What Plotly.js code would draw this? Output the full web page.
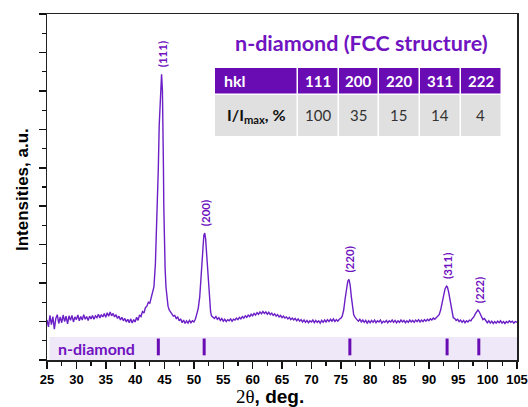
<!DOCTYPE html>
<html><head><meta charset="utf-8">
<script src="https://cdn.plot.ly/plotly-3.0.1.min.js"></script>
<style>html,body{margin:0;padding:0;background:#fff}#chart{width:528px;height:407px}</style>
</head><body><div id="chart"></div>
<script>
// ---- XRD pattern (2θ, deg / intensity, a.u.) ----
const twoTheta = [
 25,25.25,25.5,25.75, 26,26.25,26.5,26.75, 27,27.25,27.5,27.75, 28,28.25,28.5,28.75, 29,29.25,29.5,29.75,
 30,30.25,30.5,30.75, 31,31.25,31.5,31.75, 32,32.25,32.5,32.75, 33,33.25,33.5,33.75, 34,34.25,34.5,34.75,
 35,35.25,35.5,35.75, 36,36.25,36.5,36.75, 37,37.25,37.5,37.75, 38,38.25,38.5,38.75, 39,39.25,39.5,39.75,
 40,40.25,40.5,40.75, 41,41.25,41.5,41.75, 42,42.25,42.5,42.75, 43,
 43.2,43.45,43.65,43.8,43.95,44.1,44.3,44.5,44.65,44.75,44.82,44.88,44.98,45.1,45.25,45.4,45.6,45.8,46,
 46.25,46.5,46.75, 47,47.25,47.5,47.75, 48,48.25,48.5,48.75, 49,49.25,49.5,49.75, 50,50.25,
 50.5,50.75,51,51.25,51.5,51.7,51.85,52,52.2,52.4,52.55,52.7,52.85,53,
 53.25,53.5,53.75,
 54,54.25,54.5,54.75, 55,55.25,55.5,55.75, 56,56.25,56.5,56.75, 57,57.25,57.5,57.75, 58,58.25,58.5,58.75,
 59,59.25,59.5,59.75, 60,60.25,60.5,60.75, 61,61.25,61.5,61.75, 62,62.25,62.5,62.75, 63,63.25,63.5,63.75,
 64,64.25,64.5,64.75, 65,65.25,65.5,65.75, 66,66.25,66.5,66.75, 67,67.25,67.5,67.75, 68,68.25,68.5,68.75,
 69,69.25,69.5,69.75, 70,70.25,70.5,70.75, 71,71.25,71.5,71.75, 72,72.25,72.5,72.75, 73,73.25,73.5,73.75,
 74,74.25,74.5,74.75,
 75,75.25,75.5,75.75,76,76.2,76.4,76.6,76.8,77,77.2,77.4,77.6,
 77.75,
 78,78.25,78.5,78.75, 79,79.25,79.5,79.75, 80,80.25,80.5,80.75, 81,81.25,81.5,81.75, 82,82.25,82.5,82.75,
 83,83.25,83.5,83.75, 84,84.25,84.5,84.75, 85,85.25,85.5,85.75, 86,86.25,86.5,86.75, 87,87.25,87.5,87.75,
 88,88.25,88.5,88.75, 89,89.25,89.5,89.75, 90,90.25,90.5,90.75, 91,91.25,
 91.5,91.75,92,92.25,92.5,92.75,93,93.15,93.35,93.55,93.75,93.95,94.15,
 94.4,94.65,94.9,95.15,95.4,95.65,95.9,96.15,96.4,96.65,96.9,97.15,
 97.4,97.65,97.9,98.15,98.35,98.55,98.75,98.95,99.2,99.45,
 99.7,99.95,100.2,100.45,100.7,100.95,101.2,101.45,101.7,101.95,102.2,102.45,102.7,102.95,103.2,103.45,103.7,103.95,104.2,104.45,104.7,105
];
const intensity = [
 1.04,0.86,1.16,0.92, 1.13,0.80,1.08,1.18, 0.95,1.12,0.97,1.17, 1.00,1.14,0.94,1.15, 1.03,1.16,0.99,1.12,
 1.05,1.17,1.02,1.13, 1.04,1.18,1.06,1.13, 1.03,1.14,1.07,1.16, 1.06,1.15,1.10,1.19, 1.09,1.18,1.12,1.21,
 1.11,1.23,1.14,1.25, 1.15,1.21,1.12,1.18, 1.08,1.14,1.04,1.11, 1.02,1.08,0.99,1.06, 0.97,1.07,0.96,1.05,
 0.99,1.11,1.03,1.17, 1.13,1.26,1.22,1.36, 1.40,1.50,1.48,1.62, 1.75,
 1.90,2.50,3.40,4.20,5.00,6.10,6.90,7.43,7.00,6.20,5.00,4.00,3.00,2.40,1.90,1.60,1.40,1.30,1.24,
 1.20,1.14,1.16, 1.08,1.12,1.02,1.07, 0.97,1.04,0.95,1.02, 0.96,1.03,0.97,1.02, 0.99,1.06,
 1.20,1.35,1.65,2.25,2.90,3.25,3.30,3.15,2.70,2.20,1.80,1.45,1.25,1.15,
 1.12,1.08,1.13,
 1.06,1.10,1.03,1.08, 1.01,1.06,1.00,1.05, 1.02,1.07,1.01,1.06, 1.04,1.09,1.05,1.11, 1.07,1.13,1.09,1.15,
 1.11,1.17,1.13,1.19, 1.15,1.21,1.17,1.23, 1.19,1.25,1.20,1.26, 1.21,1.25,1.19,1.24, 1.18,1.22,1.16,1.20,
 1.14,1.18,1.12,1.16, 1.10,1.14,1.09,1.12, 1.07,1.11,1.05,1.09, 1.04,1.08,1.02,1.07, 1.01,1.05,0.99,1.04,
 0.98,1.03,0.97,1.02, 0.99,1.04,0.97,1.03, 0.98,1.02,0.96,1.03, 0.98,1.04,0.99,1.05, 1.00,1.06,1.01,1.07,
 1.00,1.05,1.01,1.06,
 1.08,1.14,1.30,1.60,1.90,2.05,2.10,1.95,1.65,1.35,1.18,1.12,1.07,
 1.05,
 1.01,1.06,0.99,1.04, 0.98,1.03,0.96,1.02, 0.97,1.03,0.98,1.04, 0.97,1.02,0.99,1.04, 0.96,1.01,0.98,1.03,
 0.97,1.02,0.99,1.04, 0.98,1.03,0.97,1.02, 0.98,1.04,0.99,1.03, 0.97,1.02,0.98,1.04, 0.99,1.03,0.98,1.04,
 1.00,1.05,0.99,1.04, 1.00,1.05,1.01,1.06, 1.02,1.07,1.04,1.09, 1.06,1.10,
 1.12,1.18,1.30,1.48,1.68,1.85,1.92,1.90,1.78,1.60,1.40,1.20,1.10,
 1.08,1.03,1.06,1.00,1.04,0.98,1.03,0.97,1.02,0.99,1.04,1.02,
 1.08,1.12,1.20,1.28,1.30,1.26,1.18,1.10,1.05,1.08,
 1.02,0.97,1.02,0.96,1.01,0.95,1.00,0.96,1.01,0.97,1.02,0.96,1.00,0.95,1.00,0.97,1.02,0.98,1.01,0.96,1.00,0.98
];

// ---- reflections ----
const hkl        = ['111','200','220','311','222'];
const peakLabels = ['(111)','(200)','(220)','(311)','(222)'];
const peakPos    = [44.55, 51.9, 76.45, 93.05, 98.55];   // label position, 2θ
const peakTop    = [7.43, 3.30, 2.10, 1.92, 1.30];       // label base, a.u.
const refPos     = [43.95, 51.75, 76.55, 93.1, 98.5];    // n-diamond reference lines
const relInt     = [100, 35, 15, 14, 4];                 // I/Imax, %

const PURPLE = '#6b1fc6', DARK = '#6a0cb4', TXT = '#7013c0';

// pixel -> paper helpers (plot area 47..517 x, 14..360 y)
const px = v => (v - 47) / 470;
const py = v => (360 - v) / 346;

const traces = [
  {x: twoTheta, y: intensity, type: 'scatter', mode: 'lines',
   line: {color: PURPLE, width: 1.4}, hoverinfo: 'skip'},
  {x: refPos, y: refPos.map(() => 0.34), type: 'scatter', mode: 'markers',
   marker: {symbol: 'line-ns', size: 12, line: {color: DARK, width: 3}}, hoverinfo: 'skip'}
];

const shapes = [
  {type: 'rect', xref: 'paper', yref: 'y', x0: px(49.5), x1: 1, y0: 0, y1: 0.6,
   fillcolor: '#efe8f8', line: {width: 0}, layer: 'below'}
];
const annotations = [];

peakLabels.forEach((t, i) => annotations.push({
  x: peakPos[i], y: peakTop[i], xref: 'x', yref: 'y', text: t, textangle: -90,
  showarrow: false, xanchor: 'center', yanchor: 'bottom', yshift: 5,
  font: {family: 'Lato', size: 11.5, color: TXT, weight: 'bold'}
}));

annotations.push({x: px(96), y: 0.3, xref: 'paper', yref: 'y', text: 'n-diamond',
  showarrow: false, xanchor: 'center', yanchor: 'middle',
  font: {family: 'Lato', size: 16, color: TXT, weight: 'bold'}});

// table
const colEdges = [215, 298, 339, 379, 420, 461, 502];
const rowEdges = [68, 95, 136];
for (let c = 0; c < colEdges.length - 1; c++) {
  for (let r = 0; r < 2; r++) {
    shapes.push({type: 'rect', xref: 'paper', yref: 'paper',
      x0: px(colEdges[c]), x1: px(colEdges[c + 1] - 1.5),
      y0: py(rowEdges[r + 1] - (r === 0 ? 1.5 : 0)), y1: py(rowEdges[r]),
      fillcolor: r === 0 ? DARK : '#e0e0e0', line: {width: 0}});
  }
}
const rowMid = r => py((rowEdges[r] + rowEdges[r + 1] - (r === 0 ? 1.5 : 0)) / 2);
annotations.push({x: px(222), y: rowMid(0), xref: 'paper', yref: 'paper', text: 'hkl',
  showarrow: false, xanchor: 'left', yanchor: 'middle',
  font: {family: 'Lato', size: 16, color: '#fff', weight: 'bold'}});
annotations.push({x: px((colEdges[0] + colEdges[1]) / 2), y: rowMid(1), xref: 'paper', yref: 'paper',
  text: 'I/I<sub>max</sub>, %', showarrow: false, xanchor: 'center', yanchor: 'middle',
  font: {family: 'Lato', size: 16, color: '#111', weight: 'bold'}});
hkl.forEach((h, i) => {
  const cx = px((colEdges[i + 1] + colEdges[i + 2] - 1.5) / 2);
  annotations.push({x: cx, y: rowMid(0), xref: 'paper', yref: 'paper', text: h,
    showarrow: false, xanchor: 'center', yanchor: 'middle',
    font: {family: 'Lato', size: 15, color: '#fff', weight: 'bold'}});
  annotations.push({x: cx, y: rowMid(1), xref: 'paper', yref: 'paper', text: String(relInt[i]),
    showarrow: false, xanchor: 'center', yanchor: 'middle',
    font: {family: 'Lato', size: 15, color: '#333'}});
});
annotations.push({x: px(361), y: py(43), xref: 'paper', yref: 'paper',
  text: 'n-diamond (FCC structure)', showarrow: false, xanchor: 'center', yanchor: 'middle',
  font: {family: 'Lato', size: 21.5, color: TXT, weight: 'bold'}});

// axis titles
annotations.push({x: px(270), y: py(396), xref: 'paper', yref: 'paper',
  text: '<span style="font-family:Liberation Serif;font-weight:normal">2θ</span>, deg.',
  showarrow: false, xanchor: 'center', yanchor: 'middle',
  font: {family: 'Liberation Sans', size: 19, color: '#000', weight: 'bold'}});
annotations.push({x: px(22), y: py(190), xref: 'paper', yref: 'paper',
  text: 'Intensities, a.u.', textangle: -90, showarrow: false, xanchor: 'center', yanchor: 'middle',
  font: {family: 'Liberation Sans', size: 17, color: '#000', weight: 'bold'}});

const layout = {
  width: 528, height: 407,
  margin: {l: 47, r: 11, t: 14, b: 47, pad: 0},
  paper_bgcolor: '#fff', plot_bgcolor: '#fff',
  showlegend: false,
  xaxis: {range: [25, 105], tick0: 25, dtick: 5, ticks: 'outside', ticklen: 7, tickwidth: 1.5,
    tickcolor: '#111', showline: true, linecolor: '#222', linewidth: 1.5, mirror: true,
    showgrid: false, zeroline: false,
    tickfont: {family: 'Liberation Sans', size: 13, color: '#000', weight: 'bold'},
    minor: {dtick: 2.5, ticks: 'outside', ticklen: 4, tickwidth: 1.2, tickcolor: '#111', showgrid: false}},
  yaxis: {range: [0, 9], tick0: 0, dtick: 1, ticks: 'outside', ticklen: 7, tickwidth: 1.5,
    tickcolor: '#111', showline: true, linecolor: '#222', linewidth: 1.5, mirror: true,
    showgrid: false, zeroline: false, showticklabels: false,
    minor: {dtick: 0.5, ticks: 'outside', ticklen: 4, tickwidth: 1.2, tickcolor: '#111', showgrid: false}},
  shapes: shapes,
  annotations: annotations
};

Plotly.newPlot('chart', traces, layout, {staticPlot: true, displayModeBar: false});
</script>
</body></html>
